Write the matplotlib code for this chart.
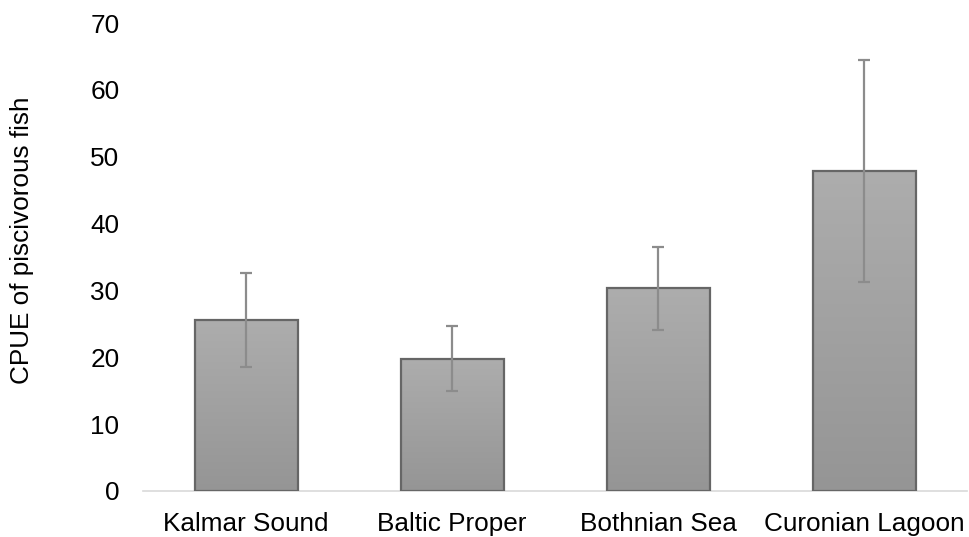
import matplotlib
import matplotlib.pyplot as plt
import numpy as np

matplotlib.use("Agg")

plt.rcParams["font.family"] = ["Liberation Sans", "DejaVu Sans"]

REGIONS = ["Kalmar Sound", "Baltic Proper", "Bothnian Sea", "Curonian Lagoon"]
CPUE = [25.6, 19.8, 30.3, 47.9]
CPUE_ERR = [7.0, 4.9, 6.2, 16.6]
Y_TICKS = [0, 10, 20, 30, 40, 50, 60, 70]


def main() -> None:
    fig = plt.figure(figsize=(9.7, 5.37), dpi=100)
    ax = fig.add_axes([0.1474, 0.0857, 0.85, 0.8713])

    x = np.arange(len(REGIONS))
    bars = ax.bar(x, CPUE, width=0.5, color="none", edgecolor="#666666",
                  linewidth=1.6, zorder=3)

    # vertical grey gradient inside each bar
    grad = np.linspace(0, 1, 256).reshape(-1, 1)
    cmap = matplotlib.colors.LinearSegmentedColormap.from_list(
        "bar", ["#959595", "#adadad"])
    for bar in bars:
        x0, y0 = bar.get_x(), bar.get_y()
        w, h = bar.get_width(), bar.get_height()
        im = ax.imshow(grad, cmap=cmap, aspect="auto", origin="lower",
                       extent=[x0, x0 + w, y0, y0 + h], zorder=2)
        im.set_clip_path(bar)

    ax.errorbar(x, CPUE, yerr=CPUE_ERR, fmt="none", ecolor="#8c8c8c",
                elinewidth=1.6, capsize=4.3, capthick=1.6, zorder=4)

    ax.set_xlim(-0.5, len(REGIONS) - 0.5)
    ax.set_ylim(0, 70)
    ax.set_yticks(Y_TICKS)
    ax.set_xticks(x)
    ax.set_xticklabels(REGIONS)
    ax.tick_params(axis="both", length=0, labelsize=18.8, colors="black")
    ax.tick_params(axis="y", pad=17)
    ax.tick_params(axis="x", pad=15)

    for side in ["top", "right", "left"]:
        ax.spines[side].set_visible(False)
    ax.spines["bottom"].set_color("#d9d9d9")
    ax.spines["bottom"].set_linewidth(1.2)

    fig.text(22 / 970, 1 - 240 / 537, "CPUE of piscivorous fish",
             rotation=90, ha="center", va="center", fontsize=18.8)

    plt.savefig("out.png", dpi=100)
    plt.close()


if __name__ == "__main__":
    main()
